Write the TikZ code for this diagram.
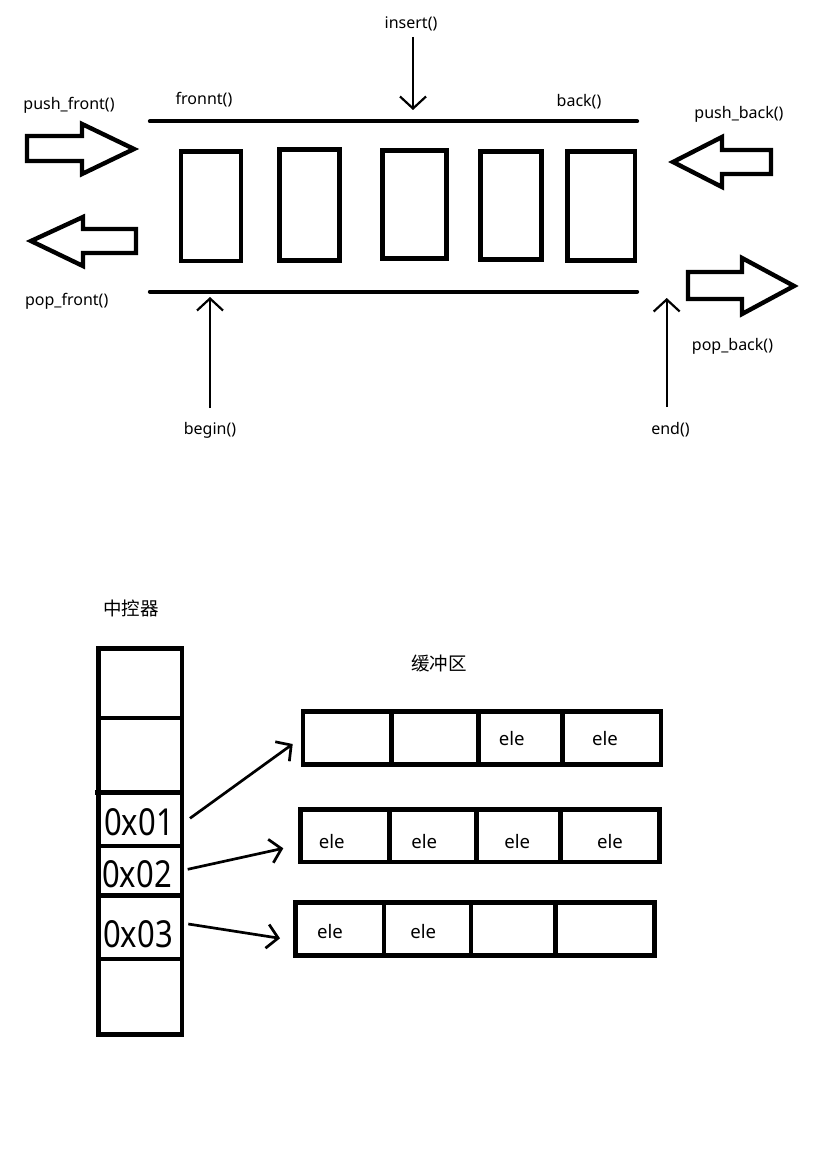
\documentclass[tikz,border=0pt]{standalone}
\usepackage{fontspec}
\usepackage{graphicx}
\setmainfont{Noto Sans}
\newfontfamily\cjk{Noto Sans CJK SC}
\usetikzlibrary{arrows.meta}
\newcommand{\lblfont}{\fontsize{16}{19}\selectfont}
\newcommand{\elefont}{\fontsize{18.6}{22}\selectfont}
\newcommand{\addrfont}{\fontsize{31}{36}\selectfont}
\newcommand{\cjkfont}{\cjk\fontsize{18.5}{22}\selectfont}
\newcommand{\addr}[1]{\scalebox{1}[1.2]{#1}}
\begin{document}
\begin{tikzpicture}[x=1pt,y=-1pt,
  rail/.style={line width=4.4pt,line cap=round},
  cellbox/.style={draw,line width=4.6pt,inner sep=0pt,outer sep=0pt},
  blockarrow/.style={draw,line width=4.4pt,line join=miter},
  ptr/.style={line width=2.2pt,-{Straight Barb[length=12pt,width=26pt]}},
  bptr/.style={line width=2.7pt,-{Straight Barb[length=11pt,width=24pt]}},
  lbl/.style={font=\lblfont,anchor=base,inner sep=0pt},
  elelbl/.style={font=\elefont,anchor=base,inner sep=0pt},
  addrlbl/.style={font=\addrfont,anchor=center,inner sep=0pt},
  cjklbl/.style={font=\cjkfont,anchor=center,inner sep=0pt},
  divider/.style={line width=4.6pt}
]
\useasboundingbox[fill=white] (0,0) rectangle (814,1150);

% ---------- top: deque ----------
\draw[rail] (150,121.3) -- (637,121.3);
\draw[rail] (150,291.7) -- (637,291.7);

\node[cellbox,minimum width=60pt,minimum height=109.5pt] (e1) at (211,206.3) {};
\node[cellbox,minimum width=60pt,minimum height=111pt] (e2) at (309.5,205) {};
\node[cellbox,minimum width=64pt,minimum height=108pt] (e3) at (414.5,204.5) {};
\node[cellbox,minimum width=61pt,minimum height=108pt] (e4) at (511,205.5) {};
\node[cellbox,minimum width=67.3pt,minimum height=109pt] (e5) at (601.4,206) {};

% block arrows
\draw[blockarrow] (27,136) -- (82,136) -- (82,124) -- (134,149) -- (82,174) -- (82,161) -- (27,161) -- cycle;
\draw[blockarrow] (31,241) -- (83,217) -- (83,229) -- (136,229) -- (136,253) -- (83,253) -- (83,266) -- cycle;
\draw[blockarrow] (673,162) -- (722,137) -- (722,150) -- (771,150) -- (771,174) -- (722,174) -- (722,187) -- cycle;
\draw[blockarrow] (688,272) -- (742,272) -- (742,258) -- (794,286) -- (742,314) -- (742,299) -- (688,299) -- cycle;

% thin arrows
\coordinate (ins0) at (413,37);
\coordinate (ins1) at (413,110);
\coordinate (beg0) at (210,408);
\coordinate (beg1) at (210,297);
\coordinate (end0) at (666.7,407);
\coordinate (end1) at (666.7,298);
\draw[ptr] (ins0) -- (ins1);
\draw[ptr] (beg0) -- (beg1);
\draw[ptr] (end0) -- (end1);

% labels
\node[lbl] (linsert) at (411,29) {insert()};
\node[lbl] (lpushf) at (69,110) {push\_front()};
\node[lbl] (lfront) at (204,105) {fronnt()};
\node[lbl] (lback) at (579,106.7) {back()};
\node[lbl] (lpushb) at (739,118.3) {push\_back()};
\node[lbl] (lpopf) at (66.7,305) {pop\_front()};
\node[lbl] (lpopb) at (732.5,350) {pop\_back()};
\node[lbl] (lbegin) at (210,434) {begin()};
\node[lbl] (lend) at (670.5,434.3) {end()};

% ---------- bottom: map + buffers ----------
\node[cjklbl] (lctrl) at (131,608) {中控器};
\node[cjklbl] (lbuf) at (439,663) {缓冲区};

\node[cellbox,minimum width=83.3pt,minimum height=386.4pt] (ctrl) at (140.35,841.5) {};
\draw[divider] (98.7,718) -- (182,718);
\draw[divider] (95,792.3) -- (182,792.3);
\draw[divider] (98.7,846) -- (182,846);
\draw[divider] (98.7,895.3) -- (182,895.3);
\draw[line width=3.2pt] (98.7,959) -- (182,959);

\node[addrlbl] (a1) at (139,821.7) {\addr{0x01}};
\node[addrlbl] (a2) at (137,874) {\addr{0x02}};
\node[addrlbl] (a3) at (138,934) {\addr{0x03}};

% buffer rows
\node[cellbox,minimum width=358pt,minimum height=52.6pt] (buf1) at (482,738) {};
\draw[divider] (391.7,711.7) -- (391.7,764.3);
\draw[divider] (478.7,711.7) -- (478.7,764.3);
\draw[divider] (562.7,711.7) -- (562.7,764.3);

\node[cellbox,minimum width=359pt,minimum height=52.3pt] (buf2) at (480,835.85) {};
\draw[divider] (389.3,809.7) -- (389.3,862);
\draw[divider] (476.7,809.7) -- (476.7,862);
\draw[divider] (560.7,809.7) -- (560.7,862);

\node[cellbox,minimum width=359pt,minimum height=53pt] (buf3) at (475,928.8) {};
\draw[divider] (384,902.3) -- (384,955.3);
\draw[divider] (471,902.3) -- (471,955.3);
\draw[divider] (555.3,902.3) -- (555.3,955.3);

\node[elelbl] (b13) at (511.7,745.5) {ele};
\node[elelbl] (b14) at (605,745.5) {ele};
\node[elelbl] (b21) at (331.7,848.3) {ele};
\node[elelbl] (b22) at (424.3,848.3) {ele};
\node[elelbl] (b23) at (517.3,848.3) {ele};
\node[elelbl] (b24) at (610,848.3) {ele};
\node[elelbl] (b31) at (330,938.3) {ele};
\node[elelbl] (b32) at (423.3,938.3) {ele};

% pointers
\coordinate (p1s) at (190,818.3);
\coordinate (p1e) at (292.7,744);
\coordinate (p2s) at (187.7,869.3);
\coordinate (p2e) at (283.3,848.3);
\coordinate (p3s) at (188.3,924);
\coordinate (p3e) at (280,938.3);
\draw[bptr] (p1s) -- (p1e);
\draw[bptr] (p2s) -- (p2e);
\draw[bptr] (p3s) -- (p3e);
\end{tikzpicture}
\end{document}
